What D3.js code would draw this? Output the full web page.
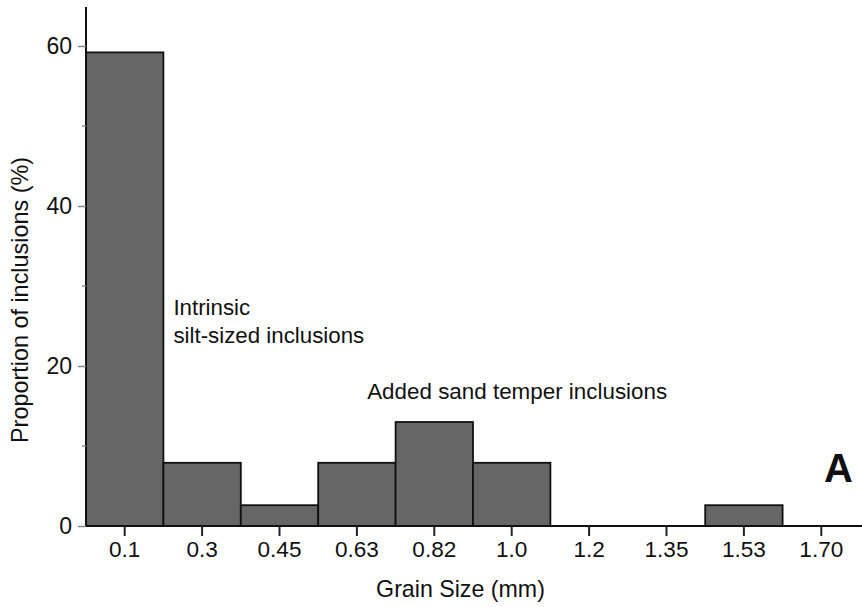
<!DOCTYPE html>
<html>
<head>
<meta charset="utf-8">
<script src="https://cdn.jsdelivr.net/npm/d3@7"></script>
<style>
  body { margin: 0; background: #fff; }
  text { font-family: "Liberation Sans", Arial, Helvetica, sans-serif; fill: #111; }
</style>
</head>
<body>
<svg id="chart" width="862" height="607"></svg>
<script>
// grain size bins (tick labels) and proportion of inclusions (%)
var sizes = ["0.1", "0.3", "0.45", "0.63", "0.82", "1.0", "1.2", "1.35", "1.53", "1.70"];
var proportions = [59.2, 7.9, 2.6, 7.9, 13.0, 7.9, 0, 0, 2.6, 0];
var yMajor = [0, 20, 40, 60];
var yMinor = [10, 30, 50];

var svg = d3.select("#chart");
var plotL = 86, plotR = 860, plotT = 6, plotB = 526;

var x = d3.scaleBand()
    .domain(sizes)
    .range([plotL, plotR])
    .paddingInner(0).paddingOuter(0);

var y = d3.scaleLinear()
    .domain([0, 65])
    .range([plotB, plotT]);

// bars
svg.selectAll(".bar")
    .data(sizes.map(function(s, i) { return {size: s, v: proportions[i]}; }).filter(function(d) { return d.v > 0; }))
    .enter().append("rect")
    .attr("class", "bar")
    .attr("x", function(d) { return x(d.size); })
    .attr("y", function(d) { return y(d.v); })
    .attr("width", x.bandwidth())
    .attr("height", function(d) { return y(0) - y(d.v); })
    .attr("fill", "#666")
    .attr("stroke", "#111")
    .attr("stroke-width", 1.8);

// x axis
var xAxis = svg.append("g")
    .attr("transform", "translate(0," + plotB + ")")
    .call(d3.axisBottom(x).tickSize(10).tickSizeOuter(0).tickPadding(5));
xAxis.select(".domain").attr("d", "M" + plotL + ",0H862").attr("stroke", "#111").attr("stroke-width", 2);
xAxis.selectAll(".tick line").attr("stroke", "#222").attr("stroke-width", 2);
xAxis.selectAll(".tick text").style("font-size", "22.6px").attr("fill", "#111");

// y axis
var yAxis = svg.append("g")
    .attr("transform", "translate(" + plotL + ",0)")
    .call(d3.axisLeft(y).tickValues(yMajor).tickSize(8).tickSizeOuter(0).tickPadding(6));
yAxis.select(".domain").attr("d", "M0," + plotB + "V" + (plotT + 1)).attr("stroke", "#111").attr("stroke-width", 2);
yAxis.selectAll(".tick line").attr("stroke", "#888").attr("stroke-width", 1.5);
yAxis.selectAll(".tick text").style("font-size", "23px").attr("fill", "#111");

svg.append("g")
    .selectAll("line")
    .data(yMinor)
    .enter().append("line")
    .attr("x1", plotL - 4).attr("x2", plotL)
    .attr("y1", function(d) { return y(d); })
    .attr("y2", function(d) { return y(d); })
    .attr("stroke", "#888")
    .attr("stroke-width", 1.5);

// axis titles
svg.append("text")
    .attr("x", 460.5).attr("y", 597)
    .attr("text-anchor", "middle")
    .style("font-size", "23.2px")
    .text("Grain Size (mm)");

svg.append("text")
    .attr("transform", "translate(28,300) rotate(-90)")
    .attr("text-anchor", "middle")
    .style("font-size", "23.4px")
    .text("Proportion of inclusions (%)");

// annotations
svg.append("text")
    .attr("x", x("0.3") + 10).attr("y", y(26.4))
    .style("font-size", "22.3px")
    .text("Intrinsic");
svg.append("text")
    .attr("x", x("0.3") + 10).attr("y", y(22.9))
    .style("font-size", "22.3px")
    .text("silt-sized inclusions");
svg.append("text")
    .attr("x", x("0.63") + 49).attr("y", y(15.9))
    .style("font-size", "22.4px")
    .text("Added sand temper inclusions");

// panel letter
svg.append("text")
    .attr("x", 853).attr("y", 482)
    .attr("text-anchor", "end")
    .style("font-size", "40px")
    .style("font-weight", "bold")
    .text("A");
</script>
</body>
</html>
